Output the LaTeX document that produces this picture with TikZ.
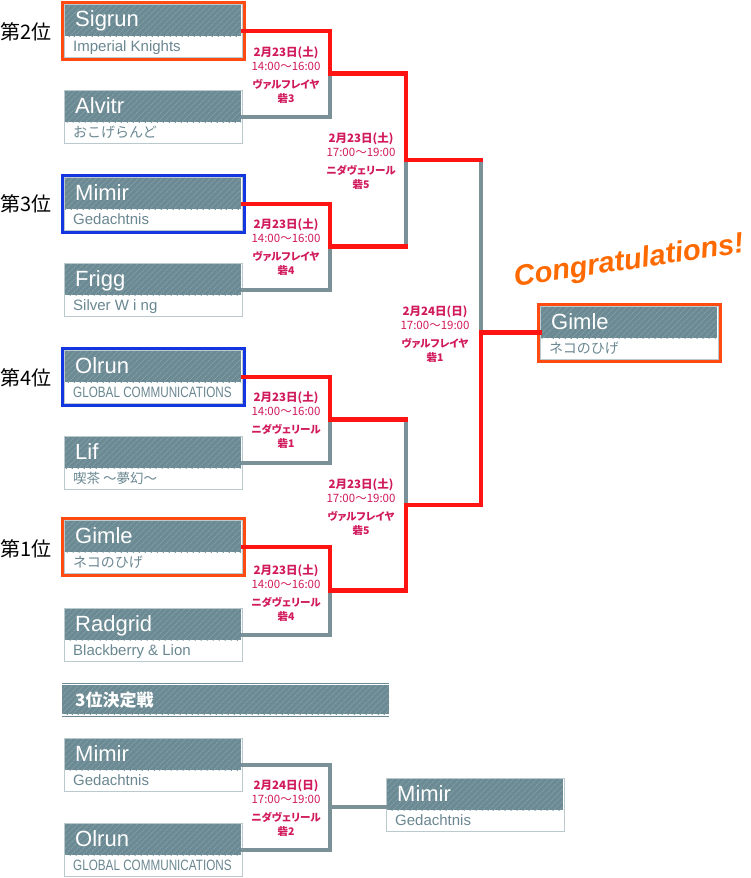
\documentclass[tikz,border=0pt]{standalone}
\usepackage{fontspec}
\usepackage{graphicx}
\setmainfont{Liberation Sans}
\newfontfamily\jpfont{Noto Sans CJK JP}
\newfontfamily\jpfontp[RawFeature=+palt]{Noto Sans CJK JP}
\usetikzlibrary{patterns.meta}

\definecolor{wonred}{HTML}{FF1414}
\definecolor{lostgrey}{HTML}{7B9198}
\definecolor{frameorange}{HTML}{FF4A12}
\definecolor{frameblue}{HTML}{1436E0}
\definecolor{headgrey}{HTML}{6C8A93}
\definecolor{hatchgrey}{HTML}{7F9CA4}
\definecolor{cardline}{HTML}{B9C9CD}
\definecolor{subtext}{HTML}{6A8791}
\definecolor{matchred}{HTML}{D11A5C}
\definecolor{congratsorange}{HTML}{FF6A00}

% one team card: id, left, top, name, subtitle
\newcommand{\teamcard}[5]{%
  \node[teambox] (#1) at (#2,#3) {};
  \path[header] (#2+1,#3+1) rectangle (#2+177,#3+32);
  \node[teamname] (#1-name) at (#2+11,#3+23) {#4};
  \node[teamsub] (#1-sub) at (#2+9,#3+47) {#5};
}
% one match label: id, x, y, date, time, place, court
\newcommand{\matchinfo}[7]{%
  \node[matchtext] (#1) at (#2,#3) {{\bfseries\fontsize{11.5}{14}\selectfont #4}\\#5\\[4pt]{\jpfontp\bfseries\fontsize{10.5}{14}\selectfont #6}\\{\bfseries\fontsize{10.5}{14}\selectfont #7}};
}

\begin{document}
\begin{tikzpicture}[x=1pt,y=-1pt,
    teambox/.style={draw=cardline,fill=white,line width=1pt,anchor=north west,
      minimum width=178pt,minimum height=53pt,inner sep=0pt},
    header/.style={fill=headgrey,postaction={pattern={Lines[angle=45,distance=4pt,line width=1pt]},pattern color=hatchgrey}},
    teamname/.style={anchor=base west,inner sep=0pt,text=white,font=\fontsize{22}{24}\selectfont},
    teamsub/.style={anchor=base west,inner sep=0pt,text=subtext,font=\fontsize{15}{17}\selectfont},
    matchtext/.style={align=center,inner sep=0pt,text=matchred,font=\jpfont\fontsize{11.5}{14}\selectfont},
    rank/.style={anchor=west,inner sep=0pt,font=\jpfont\fontsize{20}{24}\selectfont},
    won/.style={draw=wonred,line width=4.5pt,line cap=rect,line join=miter},
    lost/.style={draw=lostgrey,line width=4.5pt,line cap=rect,line join=miter},
    redframe/.style={draw=frameorange,line width=3.5pt},
    blueframe/.style={draw=frameblue,line width=3.5pt}]
  \useasboundingbox (0,0) rectangle (751,878);
  \fill[white] (0,0) rectangle (751,878);

  % Junction points
  \coordinate (q1) at (330,73.5);
  \coordinate (q2) at (330,246.5);
  \coordinate (q3) at (330,419.5);
  \coordinate (q4) at (330,590.5);
  \coordinate (s1) at (406,160);
  \coordinate (s2) at (406,505);
  \coordinate (f) at (481,332.5);
  \coordinate (q5) at (330,807);

  % Place the teams
  \teamcard{sigrun}{64}{4}{Sigrun}{Imperial Knights}
  \teamcard{alvitr}{64}{90}{Alvitr}{\jpfont\fontsize{14}{16}\selectfont おこげらんど}
  \teamcard{mimir}{64}{177}{Mimir}{Gedachtnis}
  \teamcard{frigg}{64}{263}{Frigg}{Silver W i ng}
  \teamcard{olrun}{64}{350}{Olrun}{\scalebox{0.78}[1]{GLOBAL COMMUNICATIONS}}
  \teamcard{lif}{64}{436}{Lif}{\jpfont\fontsize{13.5}{16}\selectfont 喫茶 〜夢幻〜}
  \teamcard{gimle}{64}{520}{Gimle}{\jpfont\fontsize{14}{16}\selectfont ネコのひげ}
  \teamcard{radgrid}{64}{608}{Radgrid}{Blackberry \& Lion}
  \teamcard{champ}{540}{306}{Gimle}{\jpfont\fontsize{14}{16}\selectfont ネコのひげ}

  % The frames
  \draw[redframe] ([xshift=-1.5pt,yshift=1.5pt]sigrun.north west) rectangle ([xshift=1.5pt,yshift=-1.5pt]sigrun.south east);
  \draw[blueframe] ([xshift=-1.5pt,yshift=1.5pt]mimir.north west) rectangle ([xshift=1.5pt,yshift=-1.5pt]mimir.south east);
  \draw[blueframe] ([xshift=-1.5pt,yshift=1.5pt]olrun.north west) rectangle ([xshift=1.5pt,yshift=-1.5pt]olrun.south east);
  \draw[redframe] ([xshift=-1.5pt,yshift=1.5pt]gimle.north west) rectangle ([xshift=1.5pt,yshift=-1.5pt]gimle.south east);
  \draw[redframe] ([xshift=-1.5pt,yshift=1.5pt]champ.north west) rectangle ([xshift=1.5pt,yshift=-1.5pt]champ.south east);

  % Ranks
  \node[rank] (rank2) at (0,32) {第2位};
  \node[rank] (rank3) at (0,204) {第3位};
  \node[rank] (rank4) at (0,378) {第4位};
  \node[rank] (rank1) at (0,549) {第1位};

  % The lines!
  \draw[lost] (q1) |- (alvitr.east);
  \draw[lost] (q2) |- (frigg.east);
  \draw[lost] (q3) |- (lif.east);
  \draw[lost] (q4) |- (radgrid.east);
  \draw[lost] (s1) |- (q2);
  \draw[lost] (q3 -| s2) -- (s2);
  \draw[lost] (s1 -| f) -- (f);
  \draw[won] (sigrun.east) -| (q1) -| (s1);
  \draw[won] (mimir.east) -| (q2) -- (q2 -| s1);
  \draw[won] (olrun.east) -| (q3) -- (q3 -| s2);
  \draw[won] (gimle.east) -| (q4) -| (s2);
  \draw[won] (s1) -- (s1 -| f);
  \draw[won] (s2) -| (f) -- (f -| champ.west);

  % Match labels
  \matchinfo{m1}{286}{75}{2月23日(土)}{14:00〜16:00}{ヴァルフレイヤ}{砦3}
  \matchinfo{m2}{286}{247}{2月23日(土)}{14:00〜16:00}{ヴァルフレイヤ}{砦4}
  \matchinfo{m3}{286}{420}{2月23日(土)}{14:00〜16:00}{ニダヴェリール}{砦1}
  \matchinfo{m4}{286}{593}{2月23日(土)}{14:00〜16:00}{ニダヴェリール}{砦4}
  \matchinfo{m5}{361}{161}{2月23日(土)}{17:00〜19:00}{ニダヴェリール}{砦5}
  \matchinfo{m6}{361}{507}{2月23日(土)}{17:00〜19:00}{ヴァルフレイヤ}{砦5}
  \matchinfo{m7}{435}{334}{2月24日(日)}{17:00〜19:00}{ヴァルフレイヤ}{砦1}

  % Congratulations
  \node[rotate=8.5,text=congratsorange,font=\fontsize{29}{32}\selectfont\bfseries\itshape] (congrats) at (629,262) {Congratulations!};

  % Third place match
  \path[header] (62,685) rectangle (389,714);
  \draw[draw=headgrey,line width=1pt] (62,683) -- (389,683);
  \draw[draw=headgrey,line width=1pt] (62,716) -- (389,716);
  \node[anchor=west,inner sep=0pt,text=white,font=\jpfont\bfseries\fontsize{17}{20}\selectfont] (bar) at (75,700) {3位決定戦};
  \teamcard{mimirb}{64}{738}{Mimir}{Gedachtnis}
  \teamcard{olrunb}{64}{823}{Olrun}{\scalebox{0.78}[1]{GLOBAL COMMUNICATIONS}}
  \teamcard{mimirc}{386}{778}{Mimir}{Gedachtnis}
  \draw[lost] (mimirb.east) -| (q5) |- (olrunb.east);
  \draw[lost] (q5) -- (q5 -| mimirc.west);
  \matchinfo{m8}{286}{808}{2月24日(日)}{17:00〜19:00}{ニダヴェリール}{砦2}
\end{tikzpicture}
\end{document}
